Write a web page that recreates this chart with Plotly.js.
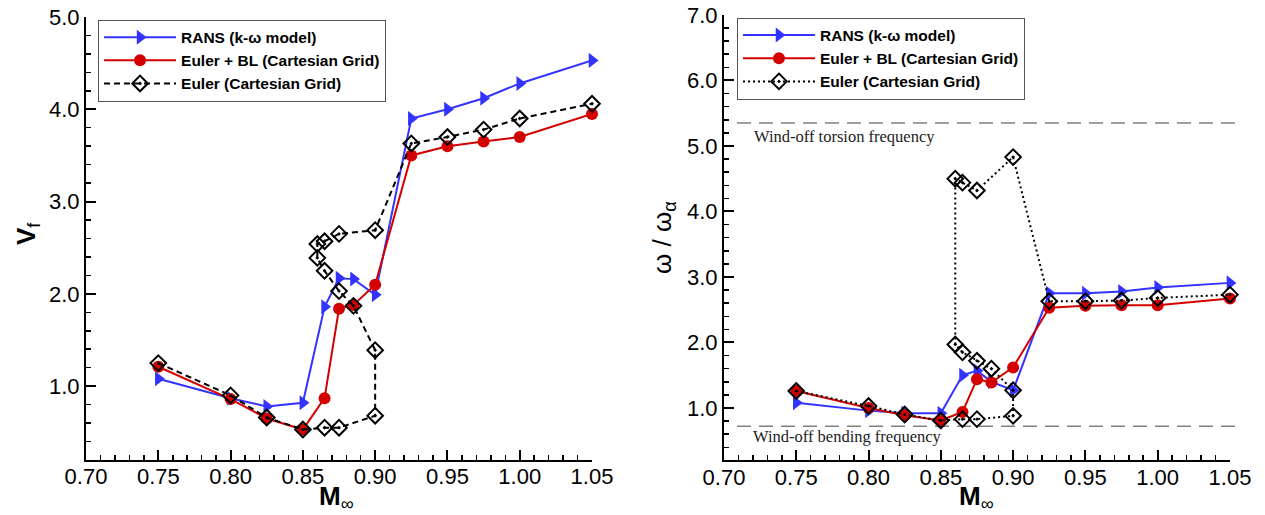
<!DOCTYPE html>
<html>
<head>
<meta charset="utf-8">
<script src="https://cdn.plot.ly/plotly-3.0.1.min.js"></script>
<style>html,body{margin:0;padding:0;background:#fff;}#chart{width:1265px;height:515px;}</style>
</head>
<body>
<div id="chart"></div>
<script>
// ---------- Data ----------
const seriesNames = ["RANS (k-\u03c9 model)", "Euler + BL (Cartesian Grid)", "Euler (Cartesian Grid)"];

// Mach numbers
const machRANS  = [0.75, 0.80, 0.825, 0.85, 0.865, 0.875, 0.885, 0.90, 0.925, 0.95, 0.975, 1.00, 1.05];
const machEBL   = [0.75, 0.80, 0.825, 0.85, 0.865, 0.875, 0.885, 0.90, 0.925, 0.95, 0.975, 1.00, 1.05];
const machEuler = [0.75, 0.80, 0.825, 0.85, 0.865, 0.875, 0.90, 0.90, 0.885, 0.875, 0.865, 0.86, 0.86, 0.865, 0.875, 0.90, 0.925, 0.95, 0.975, 1.00, 1.05];

// Left panel: flutter speed index V_f
const vfRANS  = [1.08, 0.87, 0.78, 0.82, 1.86, 2.17, 2.16, 1.99, 3.90, 4.00, 4.12, 4.28, 4.53];
const vfEBL   = [1.21, 0.86, 0.65, 0.53, 0.87, 1.84, 1.88, 2.10, 3.50, 3.60, 3.65, 3.70, 3.95];
const vfEuler = [1.25, 0.90, 0.66, 0.53, 0.55, 0.55, 0.68, 1.39, 1.87, 2.03, 2.25, 2.39, 2.54, 2.57, 2.65, 2.69, 3.63, 3.70, 3.78, 3.90, 4.06];

// Right panel: frequency ratio omega / omega_alpha
const wRANS  = [1.08, 0.96, 0.92, 0.92, 1.50, 1.57, 1.40, 1.27, 2.75, 2.75, 2.78, 2.84, 2.91];
const wEBL   = [1.26, 1.00, 0.89, 0.81, 0.94, 1.44, 1.39, 1.62, 2.53, 2.56, 2.57, 2.57, 2.67];
const wEuler = [1.26, 1.03, 0.90, 0.81, 0.83, 0.83, 0.88, 1.27, 1.60, 1.72, 1.85, 1.97, 4.50, 4.44, 4.32, 4.83, 2.63, 2.63, 2.64, 2.68, 2.73];

// Wind-off reference frequencies
const refFreqLabels = ["Wind-off torsion frequency", "Wind-off bending frequency"];
const refFreqValues = [5.35, 0.72];

// Axis tick labels
const xTickVals = [0.70, 0.75, 0.80, 0.85, 0.90, 0.95, 1.00, 1.05];
const xTickText = ["0.70", "0.75", "0.80", "0.85", "0.90", "0.95", "1.00", "1.05"];
const yLeftTickVals  = [1, 2, 3, 4, 5];
const yLeftTickText  = ["1.0", "2.0", "3.0", "4.0", "5.0"];
const yRightTickVals = [1, 2, 3, 4, 5, 6, 7];
const yRightTickText = ["1.0", "2.0", "3.0", "4.0", "5.0", "6.0", "7.0"];

// ---------- Styling ----------
const BLUE = '#3333ff', RED = '#d40000', BLACK = '#000000';
const SANS = 'Liberation Sans, Arial, sans-serif';
const SERIF = 'Liberation Serif, Times New Roman, serif';

function rans(x, y, xa, ya, leg) {
  return {x, y, xaxis: xa, yaxis: ya, legend: leg, name: seriesNames[0], type: 'scatter', mode: 'lines+markers',
    line: {color: BLUE, width: 2}, marker: {symbol: 'triangle-right', size: 13, color: BLUE}, cliponaxis: false};
}
function ebl(x, y, xa, ya, leg) {
  return {x, y, xaxis: xa, yaxis: ya, legend: leg, name: seriesNames[1], type: 'scatter', mode: 'lines+markers',
    line: {color: RED, width: 2}, marker: {symbol: 'circle', size: 12, color: RED}, cliponaxis: false};
}
function eul(x, y, xa, ya, leg, dash) {
  return {x, y, xaxis: xa, yaxis: ya, legend: leg, name: seriesNames[2], type: 'scatter', mode: 'lines+markers',
    line: {color: BLACK, width: 2, dash: dash},
    marker: {symbol: 'diamond-open-dot', size: 12, color: BLACK, line: {color: BLACK, width: 2}}, cliponaxis: false};
}

const traces = [
  rans(machRANS, vfRANS, 'x', 'y', 'legend'),
  ebl(machEBL, vfEBL, 'x', 'y', 'legend'),
  eul(machEuler, vfEuler, 'x', 'y', 'legend', '6px,4px'),
  rans(machRANS, wRANS, 'x2', 'y2', 'legend2'),
  ebl(machEBL, wEBL, 'x2', 'y2', 'legend2'),
  eul(machEuler, wEuler, 'x2', 'y2', 'legend2', '2px,3px')
];

function xAxis(domain, anchor) {
  return {domain, anchor, range: [0.70, 1.05], tickmode: 'array', tickvals: xTickVals, ticktext: xTickText,
    showline: true, linecolor: '#000', linewidth: 2, mirror: false, showgrid: false, zeroline: false,
    ticks: 'inside', ticklen: 10, tickwidth: 2, tickcolor: '#000', ticklabelstandoff: -4,
    minor: {dtick: 0.01, tick0: 0.70, ticks: 'inside', ticklen: 5, tickwidth: 1.5, tickcolor: '#000', showgrid: false},
    tickfont: {family: SANS, size: 22, color: '#000'}, automargin: false, fixedrange: true};
}
function yAxis(domain, anchor, range, vals, text) {
  return {domain, anchor, range, tickmode: 'array', tickvals: vals, ticktext: text,
    showline: true, linecolor: '#000', linewidth: 2, mirror: false, showgrid: false, zeroline: false,
    ticks: 'inside', ticklen: 10, tickwidth: 2, tickcolor: '#000',
    minor: {dtick: 0.2, tick0: 0, ticks: 'inside', ticklen: 5, tickwidth: 1.5, tickcolor: '#000', showgrid: false},
    tickfont: {family: SANS, size: 22, color: '#000'}, automargin: false, fixedrange: true};
}

const legendStyle = {bgcolor: '#ffffff', bordercolor: '#555555', borderwidth: 1, xanchor: 'left', yanchor: 'top',
  font: {family: SANS, size: 15.5, color: '#000', weight: 'bold'}, itemwidth: 72, tracegroupgap: 0,
  itemclick: false, itemdoubleclick: false};

const layout = {
  width: 1265, height: 515,
  margin: {l: 0, r: 0, t: 0, b: 0},
  paper_bgcolor: '#ffffff', plot_bgcolor: '#ffffff',
  showlegend: true,
  xaxis: xAxis([0.068, 0.468], 'y'),
  yaxis: yAxis([0.1068, 0.967], 'x', [0.2, 5.0], yLeftTickVals, yLeftTickText),
  xaxis2: xAxis([0.5723, 0.9723], 'y2'),
  yaxis2: yAxis([0.106, 0.971], 'x2', [0.2, 7.0], yRightTickVals, yRightTickText),
  legend: Object.assign({x: 0.0775, y: 0.962}, legendStyle),
  legend2: Object.assign({x: 0.5826, y: 0.966}, legendStyle),
  shapes: refFreqValues.map(v => ({type: 'line', xref: 'paper', yref: 'y2', x0: 0.5826, x1: 0.980, y0: v, y1: v,
    line: {color: '#808080', width: 1.5, dash: '14px,8px'}, layer: 'below'})),
  annotations: [
    {xref: 'x2', yref: 'y2', x: 0.7195, y: refFreqValues[0] - 0.21, text: refFreqLabels[0], showarrow: false,
      xanchor: 'left', yanchor: 'middle', font: {family: SERIF, size: 16.5, color: '#222'}},
    {xref: 'x2', yref: 'y2', x: 0.7185, y: refFreqValues[1] - 0.16, text: refFreqLabels[1], showarrow: false,
      xanchor: 'left', yanchor: 'middle', font: {family: SERIF, size: 16.5, color: '#222'}},
    {xref: 'paper', yref: 'paper', x: 336 / 1265, y: 1 - 497 / 515, text: '<b>M</b><sub>\u221e</sub>', showarrow: false,
      xanchor: 'center', yanchor: 'middle', font: {family: SANS, size: 26, color: '#000'}},
    {xref: 'paper', yref: 'paper', x: 976 / 1265, y: 1 - 497 / 515, text: '<b>M</b><sub>\u221e</sub>', showarrow: false,
      xanchor: 'center', yanchor: 'middle', font: {family: SANS, size: 26, color: '#000'}},
    {xref: 'paper', yref: 'paper', x: 28 / 1265, y: 1 - 234 / 515, text: '<b>V</b><sub>f</sub>', showarrow: false, textangle: -90,
      xanchor: 'center', yanchor: 'middle', font: {family: SANS, size: 26, color: '#000'}},
    {xref: 'paper', yref: 'paper', x: 663 / 1265, y: 1 - 238 / 515, text: '\u03c9 / \u03c9<sub>\u03b1</sub>', showarrow: false, textangle: -90,
      xanchor: 'center', yanchor: 'middle', font: {family: SANS, size: 26, color: '#000'}}
  ]
};

Plotly.newPlot('chart', traces, layout, {displayModeBar: false, staticPlot: true});
</script>
</body>
</html>
